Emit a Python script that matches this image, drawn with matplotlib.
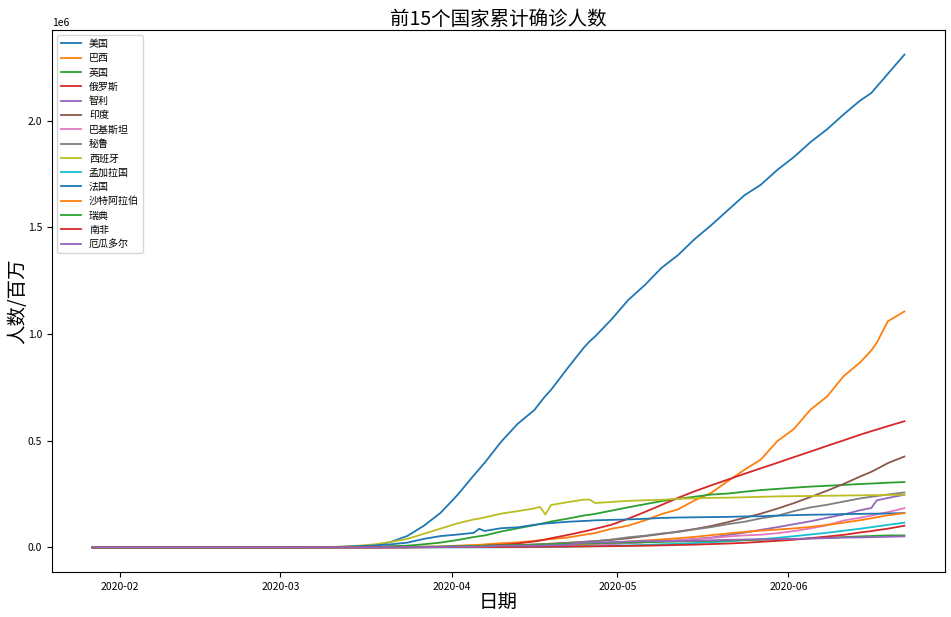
import numpy as np
import pandas as pd
import matplotlib
matplotlib.use("Agg")
import matplotlib.pyplot as plt
import matplotlib.dates as mdates

plt.rcParams['font.family'] = ['Noto Sans CJK SC', 'DejaVu Sans']
plt.rcParams['axes.unicode_minus'] = False

dates = ['2020-01-27', '2020-02-20', '2020-03-01', '2020-03-08',
         '2020-03-12', '2020-03-15', '2020-03-18', '2020-03-21', '2020-03-24', '2020-03-27', '2020-03-30',
         '2020-04-02', '2020-04-05', '2020-04-06', '2020-04-07', '2020-04-10', '2020-04-13', '2020-04-16',
         '2020-04-17', '2020-04-18', '2020-04-19', '2020-04-22', '2020-04-25', '2020-04-26', '2020-04-27',
         '2020-04-30', '2020-05-03', '2020-05-06', '2020-05-09', '2020-05-12', '2020-05-15', '2020-05-18',
         '2020-05-21', '2020-05-24', '2020-05-27', '2020-05-30', '2020-06-02', '2020-06-05', '2020-06-08',
         '2020-06-11', '2020-06-14', '2020-06-16', '2020-06-17', '2020-06-19', '2020-06-22']

# cumulative confirmed cases, in thousands
us = [0.005, 0.013, 0.075, 0.54, 1.6, 3.5, 9.4, 25.6, 53.7, 101.7, 161.8,
      243.6, 337, 367, 397, 496, 580, 644,
      678, 710, 738, 840, 938, 966, 989,
      1070, 1160, 1230, 1310, 1370, 1445, 1510,
      1580, 1650, 1700, 1770, 1830, 1900, 1960,
      2030, 2095, 2130, 2160, 2220, 2310]
brazil = [0, 0, 0.002, 0.02, 0.05, 0.2, 0.43, 1.02, 2.2, 3.4, 4.6,
          8.0, 11.1, 12.2, 14.0, 19.6, 23.4, 30.4,
          33.7, 36.6, 38.7, 46.0, 59.3, 63.1, 67.4,
          87.2, 101.8, 126.6, 155.9, 178.2, 220.3, 255.4,
          310.1, 363.2, 411.8, 498.4, 555.4, 645.8, 707.4,
          802.8, 867.6, 923.2, 960, 1060, 1106]
uk = [0, 0.009, 0.036, 0.27, 0.59, 1.39, 2.69, 5.7, 8.1, 14.7, 22.5,
      34.2, 48.4, 52.3, 55.9, 74.6, 89.6, 104.1,
      109.8, 115.3, 121.2, 134.6, 149.6, 153.0, 157.1,
      172.5, 187.8, 202.4, 216.5, 227.7, 237.4, 247.7,
      252.2, 260.9, 268.6, 274.2, 279.9, 284.9, 288.8,
      292.9, 297.0, 299.3, 300.5, 303.3, 306.2]
russia = [0, 0.002, 0.002, 0.017, 0.028, 0.063, 0.147, 0.306, 0.495, 1.036, 1.836,
          3.548, 5.389, 6.343, 7.497, 11.917, 18.328, 27.938,
          32.0, 36.8, 42.9, 58.0, 74.6, 80.9, 87.1,
          106.5, 134.7, 165.9, 198.7, 232.2, 262.8, 290.7,
          317.6, 344.5, 370.7, 396.6, 423.2, 449.3, 476.0,
          501.8, 528.3, 544.7, 552.5, 568.3, 591.5]
chile = [0, 0, 0, 0, 0.033, 0.075, 0.238, 0.537, 0.922, 1.61, 2.449,
         3.404, 4.471, 4.815, 5.116, 6.501, 7.525, 8.807,
         9.25, 9.73, 10.09, 11.3, 12.86, 13.33, 13.81,
         16.0, 20.6, 24.6, 28.9, 31.7, 39.5, 46.1,
         57.6, 69.1, 82.3, 94.9, 108.7, 122.5, 138.8,
         154.1, 174.3, 184.4, 220.6, 231.4, 247.0]
india = [0, 0.003, 0.003, 0.039, 0.073, 0.113, 0.156, 0.33, 0.536, 0.887, 1.397,
         2.567, 4.778, 5.311, 5.916, 7.6, 10.45, 13.43,
         14.35, 15.72, 17.62, 21.8, 26.3, 27.9, 29.5,
         35.0, 42.5, 53.0, 62.8, 74.3, 85.9, 100.3,
         118.2, 138.5, 158.1, 181.8, 207.6, 236.2, 265.9,
         297.5, 332.4, 354.1, 367.3, 395.0, 426.0]
pakistan = [0, 0, 0.004, 0.006, 0.02, 0.053, 0.241, 0.646, 0.972, 1.373, 1.865,
            2.421, 3.157, 3.766, 4.035, 4.695, 5.716, 6.919,
            7.418, 7.993, 8.418, 10.51, 12.66, 13.33, 13.92,
            16.8, 20.2, 24.1, 28.7, 34.3, 38.8, 44.0,
            50.7, 56.3, 59.2, 66.5, 76.4, 89.2, 103.7,
            125.9, 139.2, 148.9, 154.8, 165.1, 184.0]
peru = [0, 0, 0, 0, 0.022, 0.071, 0.145, 0.318, 0.416, 0.58, 0.852,
        1.414, 2.281, 2.561, 2.954, 5.897, 10.3, 12.49,
        13.49, 14.42, 15.63, 19.25, 25.33, 27.52, 28.7,
        37.0, 47.4, 54.8, 65.0, 72.1, 84.5, 94.9,
        108.8, 120.0, 135.9, 148.3, 170.0, 187.4, 199.7,
        214.8, 229.7, 237.2, 240.9, 247.9, 257.4]
spain = [0, 0.002, 0.084, 0.673, 3.146, 7.798, 13.91, 25.37, 39.89, 64.06, 87.96,
         112.1, 130.8, 135.0, 140.5, 158.3, 170.1, 182.8,
         190.0, 154.0, 198.6, 212.0, 224.0, 224.0, 208.0,
         213.0, 218.0, 221.0, 223.0, 228.0, 230.0, 232.0,
         233.0, 235.0, 237.0, 239.0, 240.0, 241.0, 242.0,
         243.0, 244.0, 245.0, 245.0, 246.0, 247.0]
bangladesh = [0, 0, 0, 0, 0, 0, 0, 0.024, 0.039, 0.048, 0.049,
              0.056, 0.088, 0.123, 0.164, 0.424, 0.803, 1.231,
              1.572, 1.838, 2.144, 3.382, 4.998, 5.416, 5.913,
              7.667, 9.455, 11.72, 14.66, 16.66, 20.07, 23.87,
              28.51, 33.61, 38.29, 44.61, 52.45, 60.39, 68.5,
              78.05, 87.52, 94.48, 98.49, 105.5, 115.8]
france = [0.003, 0.012, 0.13, 1.1, 2.9, 5.4, 9.0, 14.3, 22.3, 40.0, 53.0,
          60.0, 68.0, 87.0, 77.0, 90.0, 94.0, 106.0,
          109.0, 112.0, 114.0, 120.0, 124.0, 125.0, 127.0,
          129.0, 131.0, 134.0, 138.0, 140.0, 141.0, 142.0,
          143.0, 145.0, 146.0, 149.0, 151.0, 153.0, 154.0,
          156.0, 157.0, 158.0, 158.0, 159.0, 161.0]
saudi = [0, 0, 0, 0.011, 0.045, 0.103, 0.238, 0.392, 0.767, 1.104, 1.453,
         1.885, 2.385, 2.605, 2.795, 3.651, 4.934, 6.38,
         7.142, 8.274, 9.362, 12.77, 16.3, 17.52, 18.81,
         22.75, 27.01, 31.94, 37.14, 42.93, 49.18, 57.35,
         65.08, 72.56, 78.54, 83.38, 89.01, 95.75, 105.3,
         116.0, 127.5, 136.3, 141.2, 150.3, 161.0]
sweden = [0, 0.001, 0.014, 0.203, 0.687, 1.022, 1.279, 1.746, 2.272, 3.046, 4.028,
          5.568, 6.83, 7.206, 7.693, 9.685, 10.95, 12.54,
          13.22, 13.82, 14.39, 16.0, 18.18, 18.64, 18.93,
          21.09, 22.32, 23.92, 25.92, 27.27, 29.21, 30.38,
          32.17, 33.84, 35.73, 37.54, 38.59, 41.88, 44.73,
          48.29, 51.61, 53.32, 54.56, 56.04, 56.2]
south_africa = [0, 0, 0, 0.003, 0.024, 0.051, 0.116, 0.24, 0.554, 1.17, 1.28,
                1.462, 1.655, 1.686, 1.749, 2.003, 2.173, 2.506,
                2.605, 2.783, 3.034, 3.635, 4.361, 4.546, 4.793,
                5.647, 6.783, 7.808, 9.42, 11.35, 12.74, 15.52,
                18.0, 21.34, 25.94, 30.97, 35.81, 43.43, 50.88,
                58.57, 70.04, 76.33, 80.41, 87.72, 101.6]
ecuador = [0, 0, 0.001, 0.014, 0.017, 0.028, 0.168, 0.532, 1.049, 1.627, 1.962,
           3.163, 3.646, 3.747, 3.747, 7.161, 7.529, 8.225,
           8.45, 9.022, 9.468, 11.18, 22.72, 22.72, 23.24,
           24.68, 27.46, 29.54, 29.51, 29.56, 31.47, 33.18,
           35.31, 36.76, 38.1, 38.57, 39.99, 41.58, 43.38,
           45.78, 46.75, 47.94, 48.26, 49.52, 51.64]

names = ['美国', '巴西', '英国', '俄罗斯', '智利', '印度', '巴基斯坦', '秘鲁',
         '西班牙', '孟加拉国', '法国', '沙特阿拉伯', '瑞典', '南非', '厄瓜多尔']
series = [us, brazil, uk, russia, chile, india, pakistan, peru,
          spain, bangladesh, france, saudi, sweden, south_africa, ecuador]

x = pd.to_datetime(dates)

fig = plt.figure(figsize=(9.51, 6.17), dpi=100)
ax = fig.add_axes([0.0547, 0.0729, 0.9390, 0.8785])

for name, vals in zip(names, series):
    ax.plot(x, np.array(vals) * 1000, label=name, linewidth=1.3)

ax.set_title('前15个国家累计确诊人数', fontsize=14, pad=3)
ax.set_xlabel('日期', fontsize=14, labelpad=0)
ax.set_ylabel('人数/百万', fontsize=14)
ax.yaxis.set_label_coords(-0.027, 0.5)
ax.xaxis.set_major_locator(mdates.MonthLocator())
ax.xaxis.set_major_formatter(mdates.DateFormatter('%Y-%m'))
ax.tick_params(labelsize=7.5)
ax.yaxis.get_offset_text().set_fontsize(7.5)
ax.legend(loc='upper left', fontsize=7.2, labelspacing=0.43)

fig.savefig('out.png', dpi=100)
